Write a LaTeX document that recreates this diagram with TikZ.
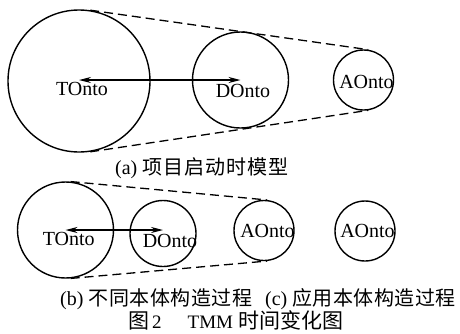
\documentclass[tikz,border=0pt]{standalone}
\usepackage{fontspec}
\setmainfont{Liberation Serif}
\newfontfamily\cjks[LetterSpace=5]{Noto Sans CJK SC}
\newfontfamily\cjkm[LetterSpace=2.5]{Noto Sans CJK SC}
\newfontfamily\cjk{Noto Sans CJK SC}
\usetikzlibrary{arrows.meta}
\begin{document}
\begin{tikzpicture}[x=1pt,y=-1pt,
  onto/.style={circle,draw,line width=1.4pt,inner sep=0pt},
  lbl/.style={anchor=base,inner sep=0pt,font=\fontsize{20}{20}\selectfont},
  captxt/.style={anchor=base west,inner sep=0pt,font=\fontsize{20}{20}\selectfont},
  tangent/.style={dash pattern=on 9pt off 5pt,line width=1.3pt},
  link/.style={{Stealth[length=12pt,width=6pt]}-{Stealth[length=12pt,width=6pt]},line width=1.3pt}]
\useasboundingbox (0,0) rectangle (460,333);
% (a)
\node[onto,minimum size=142pt] (T1) at (79,81) {};
\node[onto,minimum size=96pt] (D1) at (240.5,80) {};
\node[onto,minimum size=60pt] (A1) at (363.5,80) {};
\draw[link] (T1.center |- D1.center) -- (D1.center);
\draw[tangent] (T1.81.7) -- (A1.81.7);
\draw[tangent] (T1.-81.7) -- (A1.-81.7);
\node[lbl] (t1) at (82,95) {TOnto};
\node[lbl] (d1) at (243,97) {DOnto};
\node[lbl] (a1) at (366.5,88) {AOnto};
\node[captxt] (ca) at (115,174) {(a) {\cjks 项目启动时模型}};
% (b)
\node[onto,minimum size=96pt] (T2) at (65.5,230) {};
\node[onto,minimum size=66pt] (D2) at (163,233.5) {};
\node[onto,minimum size=60pt] (A2) at (264,230.5) {};
\draw[link] (T2.center) -- (T2.center -| D2.center);
\draw[tangent] (T2.84.8) -- (A2.84.8);
\draw[tangent] (T2.-84.8) -- (A2.-84.8);
\node[lbl] (t2) at (68.7,245) {TOnto};
\node[lbl] (d2) at (170,247) {DOnto};
\node[lbl] (a2) at (267.5,237) {AOnto};
% (c)
\node[onto,minimum size=60pt] (A3) at (365,231) {};
\node[lbl] (a3) at (367.5,237) {AOnto};
% captions
\node[captxt] (cb) at (60,305) {(b) {\cjkm 不同本体构造过程}};
\node[captxt] (cc) at (265,305) {(c) {\cjkm 应用本体构造过程}};
\node[captxt,font=\fontsize{19}{19}\selectfont] (cf) at (128,328) {{\fontsize{21}{21}\cjk 图}\hspace{3pt}2\hspace{26pt}TMM\hspace{5pt}{\fontsize{21}{21}\cjk 时间变化图}};
\end{tikzpicture}
\end{document}
